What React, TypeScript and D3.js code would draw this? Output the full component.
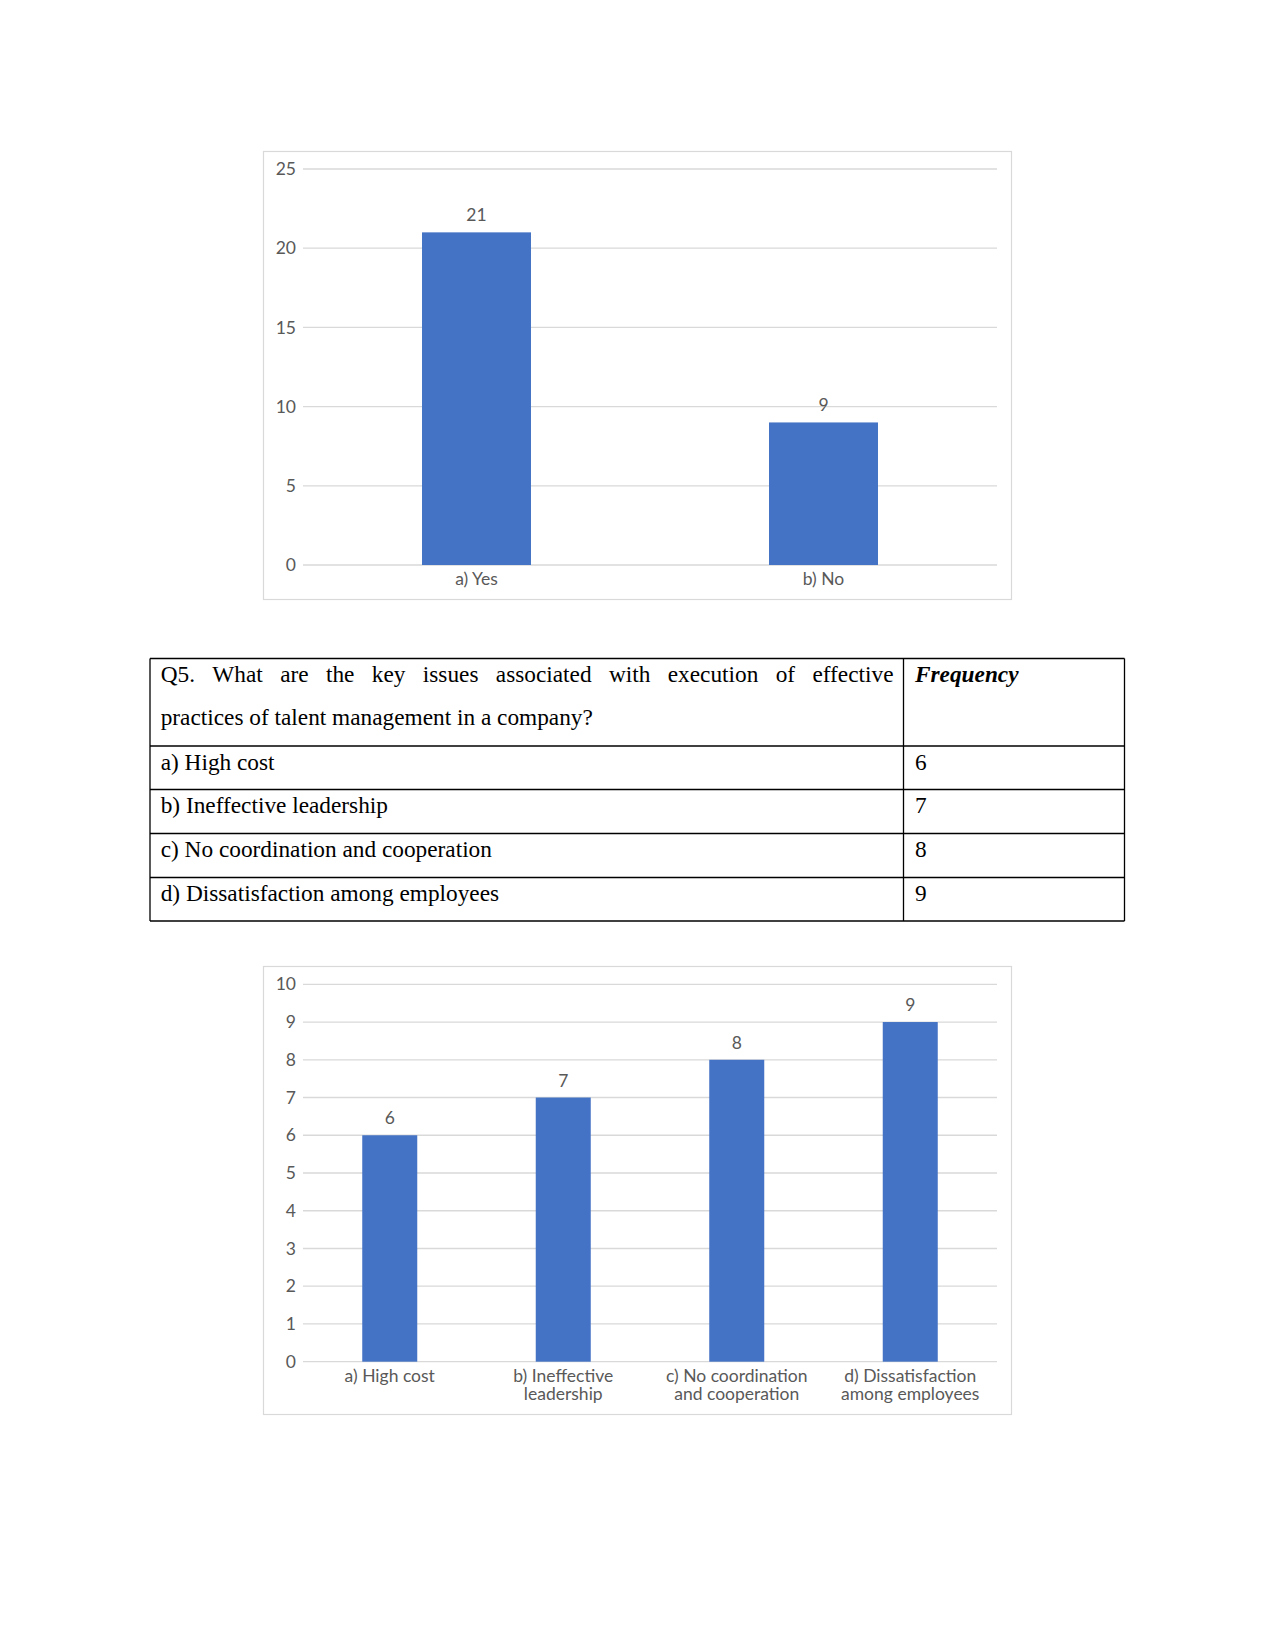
import React from "react";
import * as d3 from "d3";

// ---------- data ----------
const q4Categories = ["a) Yes", "b) No"];
const q4Values = [21, 9];
const q4Ticks = [0, 5, 10, 15, 20, 25];

const q5Question =
  "Q5. What are the key issues associated with execution of effective practices of talent management in a company?";
const q5Header = "Frequency";
const q5Categories = [
  "a) High cost",
  "b) Ineffective leadership",
  "c) No coordination and cooperation",
  "d) Dissatisfaction among employees",
];
const q5AxisLabels = [
  ["a) High cost"],
  ["b) Ineffective", "leadership"],
  ["c) No coordination", "and cooperation"],
  ["d) Dissatisfaction", "among employees"],
];
const q5Values = [6, 7, 8, 9];
const q5Ticks = [0, 1, 2, 3, 4, 5, 6, 7, 8, 9, 10];

// ---------- styles ----------
const BAR = "#4472C4";
const GRID = "#d9d9d9";
const TXT = "#595959";
const CHART_FONT = "Lato, 'Open Sans', sans-serif";
const SERIF = "'Liberation Serif', 'Times New Roman', serif";

let measureCtx: CanvasRenderingContext2D | null = null;
function measure(text: string, font: string) {
  if (!measureCtx) {
    const c = document.createElement("canvas");
    measureCtx = c.getContext("2d");
  }
  if (!measureCtx) return text.length * 10;
  measureCtx.font = font;
  return measureCtx.measureText(text).width;
}

type ChartProps = {
  frame: { x: number; y: number; w: number; h: number };
  plot: { left: number; right: number; top: number; bottom: number };
  labels: string[][];
  values: number[];
  ticks: number[];
  padding: number;
};

function BarChart({ frame, plot, labels, values, ticks, padding }: ChartProps) {
  const keys = labels.map((l) => l.join(" "));
  const x = d3
    .scaleBand<string>()
    .domain(keys)
    .range([plot.left, plot.right])
    .paddingInner(padding)
    .paddingOuter(padding / 2);
  const y = d3
    .scaleLinear()
    .domain([ticks[0], ticks[ticks.length - 1]])
    .range([plot.bottom, plot.top]);
  const fs = 17.5;
  return (
    <g>
      <rect
        x={frame.x + 0.5}
        y={frame.y + 0.5}
        width={frame.w}
        height={frame.h}
        fill="#fff"
        stroke={GRID}
        strokeWidth={1.2}
      />
      {ticks.map((t) => (
        <g key={t}>
          <line
            x1={plot.left}
            x2={plot.right}
            y1={y(t)}
            y2={y(t)}
            stroke={GRID}
            strokeWidth={1.3}
          />
          <text
            x={plot.left - 7}
            y={y(t)}
            dy="0.35em"
            textAnchor="end"
            fontFamily={CHART_FONT}
            fontSize={fs}
            fill={TXT}
          >
            {t}
          </text>
        </g>
      ))}
      {values.map((v, i) => {
        const k = keys[i];
        const bx = x(k) as number;
        return (
          <g key={k}>
            <rect
              x={bx}
              y={y(v)}
              width={x.bandwidth()}
              height={y(0) - y(v)}
              fill={BAR}
            />
            <text
              x={bx + x.bandwidth() / 2}
              y={y(v) - 11}
              textAnchor="middle"
              fontFamily={CHART_FONT}
              fontSize={fs}
              fill={TXT}
            >
              {v}
            </text>
            {labels[i].map((line, j) => (
              <text
                key={j}
                x={bx + x.bandwidth() / 2}
                y={y(0) + 20 + j * 18.5}
                textAnchor="middle"
                fontFamily={CHART_FONT}
                fontSize={fs}
                fill={TXT}
              >
                {line}
              </text>
            ))}
          </g>
        );
      })}
    </g>
  );
}

function JustifiedLine({
  words,
  x0,
  x1,
  y,
  size,
}: {
  words: string[];
  x0: number;
  x1: number;
  y: number;
  size: number;
}) {
  const font = `${size}px 'Liberation Serif'`;
  const widths = words.map((w) => measure(w, font));
  const total = widths.reduce((a, b) => a + b, 0);
  const gap = (x1 - x0 - total) / (words.length - 1);
  let cx = x0;
  return (
    <g>
      {words.map((w, i) => {
        const px = cx;
        cx += widths[i] + gap;
        return (
          <text key={i} x={px} y={y} fontFamily={SERIF} fontSize={size} fill="#000">
            {w}
          </text>
        );
      })}
    </g>
  );
}

function Table() {
  const left = 150;
  const mid = 903.5;
  const right = 1124.5;
  const rows = [658.5, 746, 789.5, 833.5, 877.5, 921];
  const size = 23.3;
  const words = q5Question.split(" ");
  const firstLine = words.slice(0, 11);
  const secondLine = words.slice(11).join(" ");
  const textX = 160.7;
  const freqX = 915;
  const baselineOffset = 23.5;
  return (
    <g>
      <JustifiedLine words={firstLine} x0={textX} x1={893.5} y={681.7} size={size} />
      <text x={textX} y={725} fontFamily={SERIF} fontSize={size} fill="#000">
        {secondLine}
      </text>
      <text
        x={freqX}
        y={681.7}
        fontFamily={SERIF}
        fontSize={size}
        fontWeight="bold"
        fontStyle="italic"
        fill="#000"
      >
        {q5Header}
      </text>
      {q5Categories.map((c, i) => (
        <g key={c}>
          <text
            x={textX}
            y={rows[i + 1] + baselineOffset}
            fontFamily={SERIF}
            fontSize={size}
            fill="#000"
          >
            {c}
          </text>
          <text
            x={freqX}
            y={rows[i + 1] + baselineOffset}
            fontFamily={SERIF}
            fontSize={size}
            fill="#000"
          >
            {q5Values[i]}
          </text>
        </g>
      ))}
      {rows.map((r, i) => (
        <line key={i} x1={left} x2={right} y1={r} y2={r} stroke="#000" strokeWidth={1.3} />
      ))}
      {[left, mid, right].map((cx, i) => (
        <line
          key={i}
          x1={cx}
          x2={cx}
          y1={rows[0]}
          y2={rows[rows.length - 1]}
          stroke="#000"
          strokeWidth={1.3}
        />
      ))}
    </g>
  );
}

export default function App() {
  return (
    <svg
      width={1275}
      height={1651}
      style={{ position: "absolute", left: 0, top: 0, background: "#fff" }}
    >
      <rect x={0} y={0} width={1275} height={1651} fill="#fff" />
      <BarChart
        frame={{ x: 263, y: 151, w: 748, h: 448 }}
        plot={{ left: 303, right: 997, top: 169, bottom: 565 }}
        labels={q4Categories.map((c) => [c])}
        values={q4Values}
        ticks={q4Ticks}
        padding={0.686}
      />
      <Table />
      <BarChart
        frame={{ x: 263, y: 966, w: 748, h: 448 }}
        plot={{ left: 303, right: 997, top: 984.3, bottom: 1361.7 }}
        labels={q5AxisLabels}
        values={q5Values}
        ticks={q5Ticks}
        padding={0.683}
      />
    </svg>
  );
}
